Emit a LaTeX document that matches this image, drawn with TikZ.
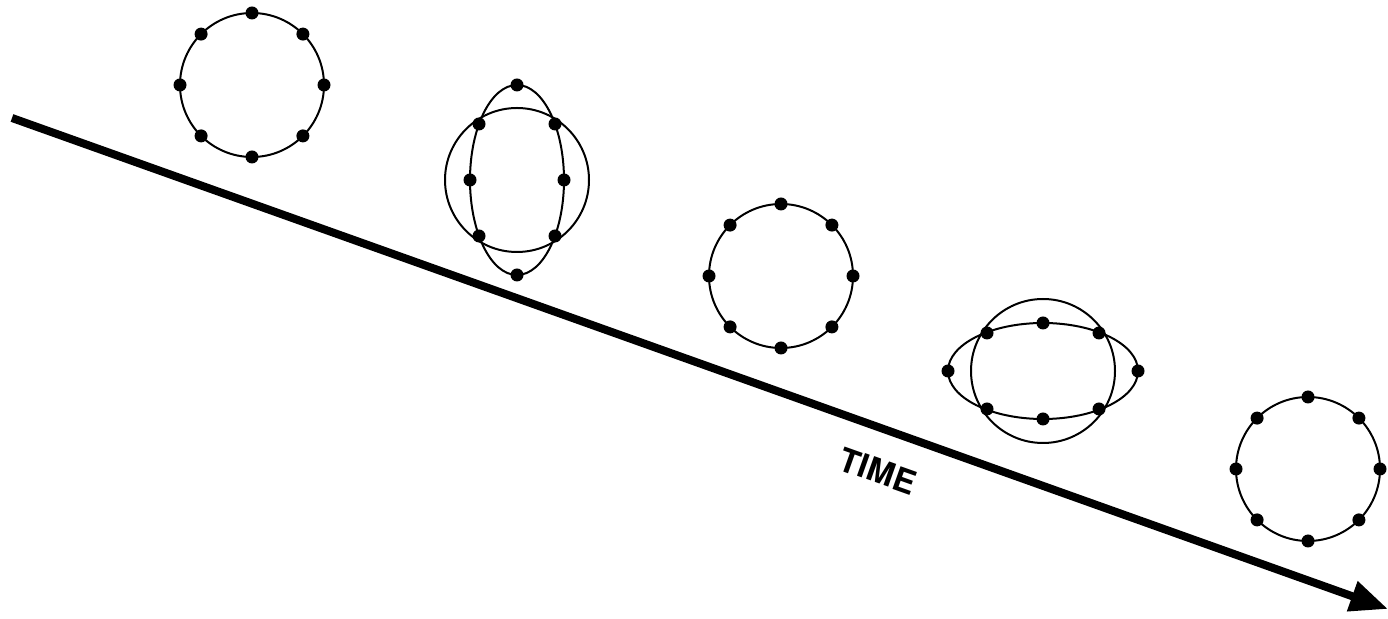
\documentclass[tikz,border=0pt]{standalone}
\usepackage{fontspec}
\setmainfont{TeX Gyre Heros}
\usetikzlibrary{arrows.meta}
\tikzset{
  ln/.style={line width=1pt},
  dot/.style={fill=black},
  ring/.pic={
    \draw[ln] (0,0) circle (72);
    \foreach \a in {0,45,...,315} \fill[dot] (\a:72) circle (6.5);
  },
  vlens/.pic={
    \draw[ln] (0,0) circle (72);
    \draw[ln] (0,0) ellipse [x radius=47, y radius=95];
    \foreach \p in {(0,95),(0,-95),(47,0),(-47,0),(38,56),(-38,56),(38,-56),(-38,-56)} \fill[dot] \p circle (6.5);
  },
  hlens/.pic={
    \draw[ln] (0,0) circle (72);
    \draw[ln] (0,0) ellipse [x radius=95, y radius=48];
    \foreach \p in {(95,0),(-95,0),(0,48),(0,-48),(56,38),(-56,38),(56,-38),(-56,-38)} \fill[dot] \p circle (6.5);
  },
  timearrow/.style={line width=4pt, -{Triangle[length=19pt,width=15pt]}},
  lbl/.style={font=\bfseries\fontsize{16.5}{20}\selectfont, inner sep=0pt}
}
\begin{document}
\begin{tikzpicture}[x=0.5pt,y=-0.5pt]
  \useasboundingbox (0,0) rectangle (1388,619);
  \coordinate (start) at (12,118);
  \coordinate (end) at (1388,609);
  \draw[timearrow] (start) -- (end);
  \pic at (252,85) {ring};
  \pic at (517,180) {vlens};
  \pic at (781,276) {ring};
  \pic at (1043,371) {hlens};
  \pic at (1308,469) {ring};
  \node[lbl, rotate=-19.6] (time) at (878,471) {TIME};
\end{tikzpicture}
\end{document}
